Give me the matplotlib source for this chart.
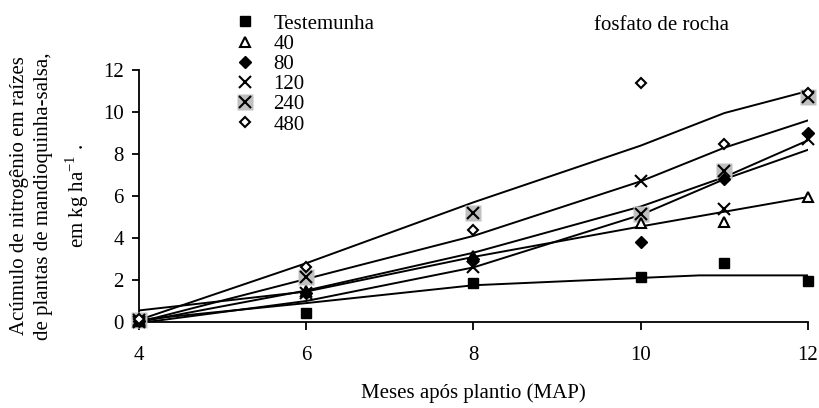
import matplotlib
matplotlib.use('Agg')
import matplotlib.pyplot as plt
from matplotlib.legend_handler import HandlerTuple

plt.rcParams['font.family'] = ['Liberation Serif', 'DejaVu Serif']
plt.rcParams['mathtext.fontset'] = 'custom'
plt.rcParams['mathtext.rm'] = 'Liberation Serif'

# Observed values (months after planting)
months = [4, 6, 8, 10, 11, 12]
testemunha = [0.05, 0.45, 1.85, 2.14, 2.8, 1.95]
dose_40 = [0.05, 1.5, 3.15, 4.7, 4.78, 5.95]
dose_80 = [0.05, 1.4, 3.0, 3.8, 6.8, 9.0]
dose_120 = [0.0, 1.4, 2.6, 6.7, 5.4, 8.7]
dose_240 = [0.1, 2.15, 5.2, 5.15, 7.2, 10.7]
dose_480 = [0.15, 2.6, 4.4, 11.4, 8.5, 10.9]

# Fitted curves
fit_months = [4, 6, 8, 10, 11, 12]
fit_testemunha_x = [4, 6, 8, 10, 10.7, 12]
fit_testemunha = [0.1, 0.9, 1.75, 2.1, 2.22, 2.22]
fit_40 = [0.55, 1.45, 3.1, 4.55, 5.25, 5.95]
fit_80 = [-0.05, 1.0, 2.6, 5.1, 6.8, 8.2]
fit_120 = [0.0, 1.5, 3.3, 5.5, 6.9, 8.65]
fit_240 = [0.0, 2.05, 4.1, 6.7, 8.3, 9.6]
fit_480 = [0.1, 2.8, 5.7, 8.4, 9.95, 11.0]

labels = ['Testemunha', '40', '80', '120', '240', '480']
fs = 15

fig = plt.figure(figsize=(8.2, 4.08), dpi=100)
ax = fig.add_axes([139 / 820, 86 / 408, 669 / 820, 252 / 408])

# fitted lines
lw = 1.4
ax.plot(fit_testemunha_x, fit_testemunha, color='black', lw=lw, zorder=2)
for fy in [fit_40, fit_80, fit_120, fit_240, fit_480]:
    ax.plot(fit_months, fy, color='black', lw=lw, zorder=2)

# markers
common = dict(linestyle='none', clip_on=False, zorder=4)
h_t, = ax.plot(months, testemunha, marker='s', ms=6.5, mfc='black',
               mec='black', **common)
h_40, = ax.plot(months, dose_40, marker='^', ms=7, mfc='white', mec='black',
                mew=1.5, **common)
h_80, = ax.plot(months, dose_80, marker='D', ms=6, mfc='black', mec='black',
                **common)
h_120, = ax.plot(months, dose_120, marker='x', ms=8, mec='black', mew=1.5,
                 **common)
h_240bg, = ax.plot(months, dose_240, marker='s', ms=11.5, mfc='#c0c0c0',
                   mec='none', linestyle='none', clip_on=False, zorder=3)
h_240, = ax.plot(months, dose_240, marker='x', ms=9, mec='black', mew=1.5,
                 **common)
h_480, = ax.plot(months, dose_480, marker='D', ms=5.5, mfc='white',
                 mec='black', mew=1.5, **common)

ax.set_xlim(4, 12)
ax.set_ylim(0, 12)
ax.set_xticks([4, 6, 8, 10, 12])
ax.set_yticks([0, 2, 4, 6, 8, 10, 12])
for s in ['top', 'right']:
    ax.spines[s].set_visible(False)
for s in ['left', 'bottom']:
    ax.spines[s].set_linewidth(1.3)
ax.tick_params(axis='x', direction='out', length=5.5, width=1.3, pad=12,
               labelsize=fs)
ax.tick_params(axis='y', direction='out', length=5, width=1.3, pad=6,
               labelsize=fs)

ax.set_xlabel('Meses após plantio (MAP)', fontsize=fs, labelpad=13)

fig.text(20 / 820, 0.52, 'Acúmulo de nitrogênio em raízes', rotation=90,
         ha='center', va='center', fontsize=fs)
fig.text(44 / 820, 0.52, 'de plantas de mandioquinha-salsa,', rotation=90,
         ha='center', va='center', fontsize=fs)
fig.text(77 / 820, 0.52, r'em kg ha$^{\mathrm{-1}}$ .', rotation=90,
         ha='center', va='center', fontsize=fs)

fig.text(661 / 820, 1 - 25 / 408, 'fosfato de rocha', ha='center',
         va='center', fontsize=fs)

handles = [h_t, h_40, h_80, h_120, (h_240bg, h_240), h_480]
ax.legend(handles, labels, loc='upper left',
          bbox_to_anchor=(235 / 820, 1 - 14 / 408),
          bbox_transform=fig.transFigure, frameon=False, fontsize=fs,
          labelspacing=0.03, handlelength=1.0, handletextpad=0.85,
          borderpad=0, borderaxespad=0,
          handler_map={tuple: HandlerTuple(ndivide=1)})

fig.savefig('out.png', dpi=100)
